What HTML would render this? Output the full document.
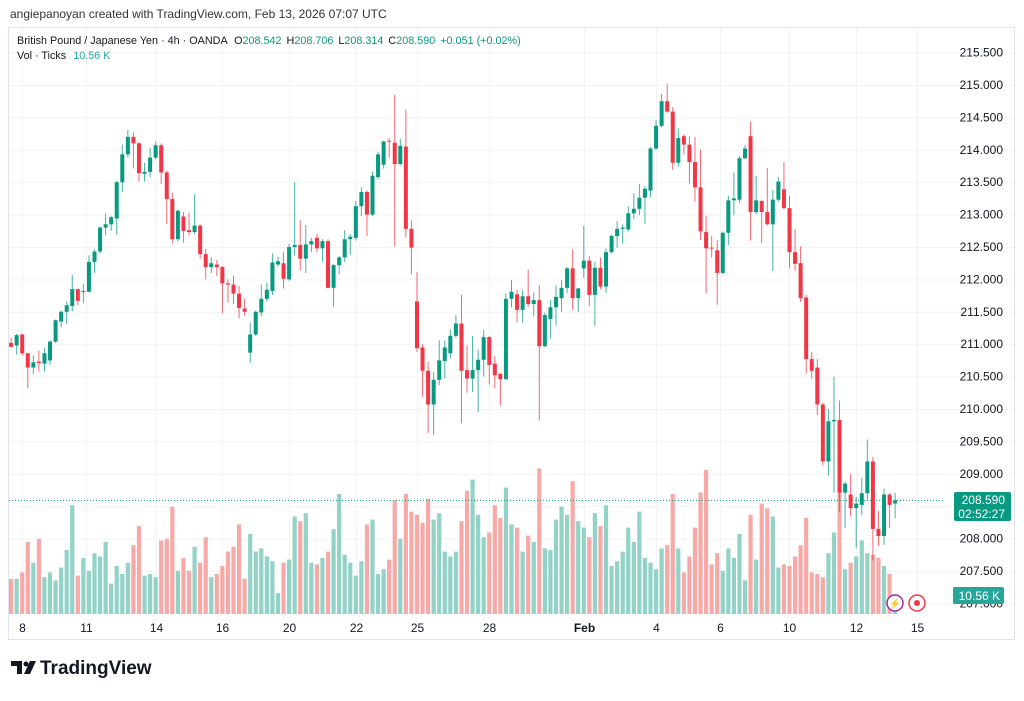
<!DOCTYPE html>
<html><head><meta charset="utf-8"><style>
html,body{margin:0;padding:0;background:#fff;}
body{width:1024px;height:696px;overflow:hidden;font-family:"Liberation Sans",sans-serif;}
svg text{font-family:"Liberation Sans",sans-serif;}
</style></head><body>
<svg id="chart" width="1024" height="696" viewBox="0 0 1024 696" xmlns="http://www.w3.org/2000/svg">
<text x="10" y="18" font-size="12" fill="#333">angiepanoyan created with TradingView.com, Feb 13, 2026 07:07 UTC</text>
<rect x="8.5" y="27.5" width="1006" height="612" fill="none" stroke="#e0e3eb"/>
<g id="grid"></g>
<g id="vols"></g>
<line id="lastline" x1="9" x2="945" stroke="#089981" stroke-dasharray="1,2" stroke-width="1"/>
<g id="candles"></g>
<g id="yaxis"></g>
<g id="xaxis"></g>
<g font-size="10.8">
<text x="17" y="44" fill="#131722">British Pound / Japanese Yen · 4h · OANDA <tspan dx="4">O</tspan><tspan fill="#089981">208.542</tspan><tspan dx="5">H</tspan><tspan fill="#089981">208.706</tspan><tspan dx="5">L</tspan><tspan fill="#089981">208.314</tspan><tspan dx="5">C</tspan><tspan fill="#089981">208.590</tspan><tspan dx="5" fill="#089981">+0.051 (+0.02%)</tspan></text>
<text x="17" y="59" fill="#131722">Vol · Ticks <tspan dx="4" fill="#26a69a">10.56 K</tspan></text>
</g>
<g>
<rect x="954" y="492" width="57" height="29" rx="2" fill="#089981"/>
<text x="1005" y="504" font-size="12" fill="#fff" text-anchor="end">208.590</text>
<text x="1005" y="518" font-size="12" fill="#fff" text-anchor="end">02:52:27</text>
</g>
<g>
<rect x="953" y="587" width="51" height="17" rx="2" fill="#26a69a"/>
<text x="1000" y="600" font-size="12" fill="#fff" text-anchor="end">10.56 K</text>
</g>
<g>
<circle cx="895" cy="603" r="8" fill="#fff" stroke="#9c27b0" stroke-width="1.5"/>
<text x="895" y="607" font-size="10" fill="#9c27b0" text-anchor="middle">⚡</text>
</g>
<g>
<circle cx="917" cy="603" r="8" fill="#fff" stroke="#f23645" stroke-width="1.5"/>
<circle cx="917" cy="603" r="3" fill="#f23645"/>
</g>
<g>
<path d="M11 661 h11 v13 h-5 v-8 h-6z" fill="#131722"/>
<circle cx="26" cy="664" r="2.5" fill="#131722"/>
<path d="M30 661 h6 l-6 13 h-6z" fill="#131722"/>
<text x="40" y="674" font-size="19" font-weight="bold" fill="#131722">TradingView</text>
</g>
</svg>
<script>
const opens=[211.02,210.98,211.15,210.86,210.64,210.73,210.70,210.75,211.04,211.35,211.50,211.59,211.85,211.81,211.81,212.27,212.43,212.80,212.85,212.94,213.50,213.93,214.20,214.10,213.63,213.66,213.88,
214.07,213.65,213.24,212.62,212.97,212.76,212.73,212.83,212.39,212.19,212.23,212.19,211.94,211.92,211.78,211.55,210.87,211.15,211.49,211.70,211.82,212.23,212.25,212.00,212.50,212.53,212.32,
212.54,212.64,212.48,212.59,211.87,212.22,212.34,212.62,212.64,213.13,213.35,213.00,213.58,213.77,214.14,214.11,213.78,214.05,212.78,211.66,210.95,210.59,210.07,210.45,210.74,210.86,211.13,
211.32,210.60,210.47,210.60,210.76,211.11,210.70,210.54,210.46,211.70,211.77,211.53,211.74,211.62,211.68,210.97,211.39,211.57,211.71,211.87,212.17,211.71,212.17,212.29,211.76,212.18,211.89,
212.42,212.67,212.78,212.77,213.02,213.09,213.26,213.37,214.02,214.37,214.75,214.59,213.80,214.21,214.08,213.81,213.42,212.73,212.49,212.45,212.10,212.72,213.22,213.23,213.87,214.21,213.04,
213.21,213.04,212.85,213.23,213.39,213.10,212.42,212.25,211.72,210.77,210.64,210.07,209.19,209.81,209.83,208.71,208.68,208.47,208.52,208.70,209.19,208.15,208.04,208.68,208.542];
const highs=[211.10,211.16,211.16,210.87,210.83,210.90,210.95,211.06,211.38,211.52,211.66,212.07,211.86,211.93,212.37,212.46,212.82,213.02,212.98,213.52,214.08,214.31,214.27,214.12,213.80,214.03,214.13,
214.10,213.68,213.34,213.08,213.04,213.03,213.31,212.85,212.47,212.34,212.30,212.21,212.00,212.06,211.90,211.70,211.33,211.52,211.92,211.95,212.40,212.35,212.42,212.55,213.50,212.91,212.84,
212.64,212.70,212.62,212.62,212.24,212.36,212.76,212.70,213.21,213.42,213.37,213.66,213.97,214.14,214.18,214.85,214.17,214.62,212.91,212.11,211.00,210.73,210.57,211.06,211.06,211.23,211.45,
211.76,210.98,211.13,210.92,211.22,211.13,210.82,210.56,211.78,211.99,211.84,211.84,212.15,211.80,211.91,211.49,211.68,211.91,211.99,212.19,212.46,211.87,212.83,212.36,212.27,212.34,212.48,
212.69,212.90,212.85,213.13,213.33,213.47,213.44,214.04,214.46,214.86,215.02,214.66,214.33,214.24,214.21,214.20,214.00,212.98,212.67,212.61,212.74,213.29,213.65,213.91,214.07,214.44,213.60,
213.23,213.72,213.38,213.58,213.81,213.29,212.78,212.51,211.76,210.88,210.77,210.10,210.00,210.50,210.13,208.88,209.00,208.64,208.94,209.53,209.26,208.43,208.77,208.70,208.706];
const lows=[210.95,210.84,210.83,210.32,210.54,210.58,210.58,210.68,211.02,211.26,211.31,211.51,211.60,211.63,211.80,212.10,212.40,212.68,212.75,212.69,213.35,213.88,213.71,213.51,213.51,213.58,213.85,
213.47,212.85,212.55,212.59,212.57,212.68,212.70,212.32,212.00,212.10,212.05,211.48,211.64,211.62,211.40,211.44,210.71,211.13,211.43,211.66,211.76,212.20,211.86,211.98,212.37,212.14,212.10,
212.42,212.42,212.27,211.86,211.58,212.08,212.27,212.38,212.60,212.98,212.67,212.98,213.55,213.71,213.88,212.51,213.76,212.65,212.08,210.88,210.19,209.63,209.60,210.37,210.47,210.78,211.10,
209.78,210.25,210.26,209.95,210.50,210.38,210.32,210.05,210.45,211.57,211.34,211.33,211.58,211.43,209.82,210.95,211.09,211.29,211.50,211.79,211.53,211.50,212.02,211.59,211.28,211.85,211.79,
212.40,212.49,212.55,212.74,212.93,212.99,212.86,213.27,214.00,214.35,214.57,213.69,213.74,213.93,213.48,213.20,212.61,211.78,212.34,211.61,212.08,212.53,212.99,213.18,213.85,212.60,213.00,
212.56,212.83,212.13,213.20,213.08,212.17,212.14,211.65,210.55,210.47,209.91,209.13,208.97,208.71,208.41,208.16,208.34,207.85,208.36,208.58,207.66,207.89,207.90,208.17,208.314];
const closes=[210.96,211.14,210.86,210.64,210.72,210.71,210.86,211.04,211.37,211.50,211.60,211.85,211.67,211.82,212.27,212.43,212.80,212.85,212.96,213.50,213.93,214.20,214.10,213.64,213.66,213.88,214.07,
213.65,213.24,212.62,213.06,212.75,212.73,212.83,212.39,212.19,212.25,212.19,211.94,211.92,211.78,211.56,211.50,211.15,211.50,211.70,211.84,212.26,212.28,212.01,212.50,212.53,212.32,212.54,
212.59,212.48,212.59,211.87,212.22,212.34,212.62,212.66,213.13,213.35,213.00,213.60,213.93,214.13,214.13,213.78,214.06,212.78,212.49,210.94,210.59,210.07,210.45,210.75,210.95,211.13,211.32,
210.59,210.47,210.60,210.76,211.11,210.68,210.52,210.46,211.70,211.81,211.53,211.74,211.62,211.68,210.97,211.45,211.57,211.73,211.87,212.17,211.71,211.86,212.29,211.76,212.18,211.89,212.42,
212.67,212.78,212.80,213.02,213.09,213.26,213.40,214.02,214.37,214.75,214.59,213.80,214.18,214.08,213.81,213.42,212.74,212.48,212.48,212.10,212.72,213.22,213.25,213.87,214.02,213.04,213.22,
213.04,212.85,213.23,213.51,213.10,212.42,212.24,211.71,210.77,210.59,210.07,209.19,209.81,209.83,208.71,208.85,208.47,208.54,208.70,209.19,208.15,208.04,208.68,208.52,208.590];
const volumes=[22,22,26,45,32,47,23,26,21,29,40,68,24,35,27,38,36,45,19,30,25,32,43,55,24,25,23,
46,47,67,27,35,27,42,32,48,23,25,30,39,42,56,22,50,39,41,36,33,13,32,34,61,58,63,
32,31,35,39,53,75,37,32,24,33,56,59,25,28,34,71,47,75,64,62,57,72,59,63,39,36,39,
58,77,84,62,48,51,68,60,79,56,54,39,49,45,91,41,40,59,67,62,83,58,54,48,63,55,68,
30,33,39,54,45,64,35,32,28,41,43,75,41,26,36,54,76,90,31,38,27,41,35,50,21,62,34,
69,66,61,29,31,30,36,43,60,26,25,23,38,51,79,28,32,36,46,38,37,35,30,25,2];
const priceTicks=[215.5,215,214.5,214,213.5,213,212.5,212,211.5,211,210.5,210,209.5,209,208.5,208,207.5,207];
const dateLabels=["8","11","14","16","20","22","25","28","Feb","4","6","10","12","15"];
const dateIndex=[2,13.5,26,38,50,62,73,86,103,116,127.5,140,152,163];
const lastPrice=208.590;

const NS="http://www.w3.org/2000/svg";
function yP(p){return 85+(215-p)*64.8;}
function xI(i){return 11+i*5.56;}
function yV(v){return 614-v*1.6;}
function mk(tag,attrs,parent){const e=document.createElementNS(NS,tag);for(const k in attrs)e.setAttribute(k,attrs[k]);parent.appendChild(e);return e;}
const grid=document.getElementById('grid'),vols=document.getElementById('vols'),cg=document.getElementById('candles'),ya=document.getElementById('yaxis'),xa=document.getElementById('xaxis');
priceTicks.forEach(p=>{
  const l=mk('line',{x1:9,x2:1014,y1:yP(p)+0.5,y2:yP(p)+0.5,stroke:'#f2f3f5'},grid);
  
  
  const t=mk('text',{x:1003,y:yP(p)+4,'font-size':12,fill:'#131722','text-anchor':'end'},ya);
  t.textContent=p.toFixed(3);
  
  
});
dateLabels.forEach((d,k)=>{
  const x=Math.round(xI(dateIndex[k]))+0.5;
  const l=mk('line',{x1:x,x2:x,y1:28,y2:614,stroke:'#f2f3f5'},grid);
  
  
  const t=mk('text',{x:x,y:632,'font-size':12,fill:'#131722','text-anchor':'middle','font-weight':d==='Feb'?'bold':'normal'},xa);
  t.textContent=d;
  
  
});
const ll=document.getElementById('lastline');ll.setAttribute('y1',yP(lastPrice));ll.setAttribute('y2',yP(lastPrice));
for(let i=0;i<closes.length;i++){
  const up=closes[i]>=opens[i];
  const x=xI(i);
  const vb=mk('rect',{x:x-2,y:yV(volumes[i]),width:4.2,height:614-yV(volumes[i]),fill:up?'#92d2c7':'#f7a9a7'},vols);
  
  
  const col=up?'#089981':'#f23645';
  const w=mk('line',{x1:x+0.1,x2:x+0.1,y1:yP(highs[i]),y2:yP(lows[i]),stroke:col,'stroke-width':1,'stroke-opacity':0.75},cg);
  
  
  const top=yP(Math.max(opens[i],closes[i])),bot=yP(Math.min(opens[i],closes[i]));
  const b=mk('rect',{x:x-1.9,y:top,width:4,height:Math.max(1,bot-top),fill:col},cg);
  
  
}
</script>
</body></html>
